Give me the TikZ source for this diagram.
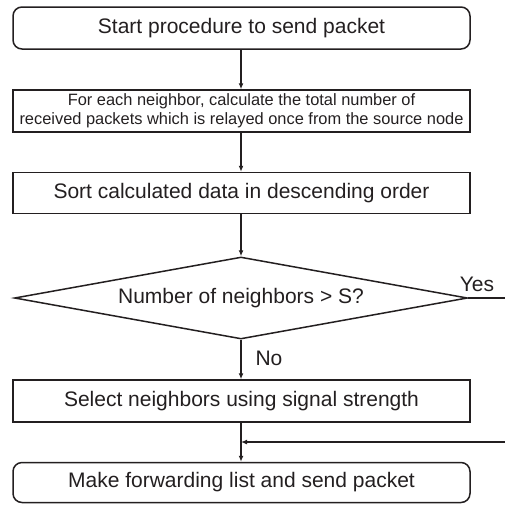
\documentclass[tikz,border=0pt]{standalone}
\usepackage{fontspec}
\setmainfont{Liberation Sans}
\usetikzlibrary{shapes.geometric,arrows.meta}
\definecolor{ink}{RGB}{35,31,32}
\tikzset{
  every node/.style={text=ink},
  boxbase/.style={draw=ink, line width=1.5pt, inner sep=0pt, minimum width=457pt, align=center,
    font=\fontsize{21}{25}\selectfont},
  termbox/.style={boxbase, rounded corners=9pt},
  procbox/.style={boxbase},
  smallbox/.style={boxbase, font=\fontsize{16.4}{18.5}\selectfont},
  decision/.style={draw=ink, line width=1.5pt, shape=diamond, inner sep=0pt, shape aspect=5.5,
    minimum width=453pt, minimum height=82pt, font=\fontsize{21}{25}\selectfont},
  flow/.style={draw=ink, line width=1.2pt, -{Latex[length=6pt,width=5pt]}},
  plain/.style={draw=ink, line width=1.2pt},
  lbl/.style={font=\fontsize{21}{25}\selectfont, inner sep=0pt}
}
\begin{document}
\begin{tikzpicture}[x=1pt, y=-1pt]
  \useasboundingbox (0,0) rectangle (505,504);
  \node[termbox, minimum height=42pt]  (start)  at (241.5,28)    {Start procedure to send packet};
  \node[smallbox, minimum height=42pt] (count)  at (241.5,111)   {For each neighbor, calculate the total number of\\received packets which is relayed once from the source node};
  \node[procbox, minimum height=41pt]  (sort)   at (241.5,193)   {Sort calculated data in descending order};
  \node[decision]                      (check)  at (241,298)     {Number of neighbors > S?};
  \node[procbox, minimum height=42pt]  (select) at (241.5,401)   {Select neighbors using signal strength};
  \node[termbox, minimum height=40pt]  (send)   at (241.5,482.5) {Make forwarding list and send packet};

  \coordinate (yesend) at (505,298);
  \coordinate (loopin) at (505,442);
  \coordinate (join)   at (241,442);

  \draw[flow] (start.south -| 241,0) -- (count.north -| 241,0);
  \draw[flow] (count.south -| 241,0) -- (sort.north -| 241,0);
  \draw[flow] (sort.south -| 241,0) -- (check.north);
  \draw[flow] (check.south) -- (select.north -| 241,0);
  \draw[flow] (select.south -| 241,0) -- (send.north -| 241,0);
  \draw[plain] (check.east) -- (yesend);
  \draw[flow] (loopin) -- (join);

  \node[lbl] (yes) at (477,284) {Yes};
  \node[lbl] (no)  at (269,358) {No};
\end{tikzpicture}
\end{document}
